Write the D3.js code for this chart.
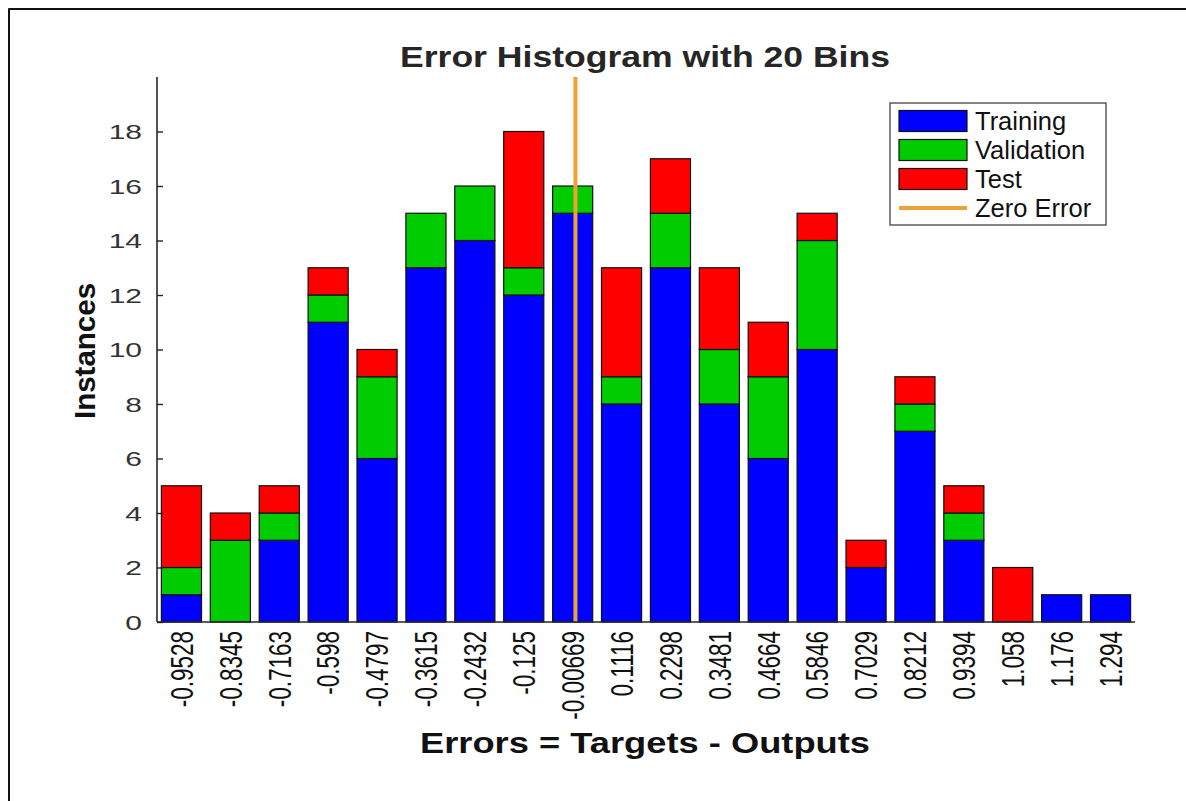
<!DOCTYPE html>
<html>
<head>
<meta charset="utf-8">
<script src="https://cdn.jsdelivr.net/npm/d3@7"></script>
<style>
  html, body { margin: 0; padding: 0; background: #fff; }
  svg { display: block; font-family: "Liberation Sans", Arial, sans-serif; }
</style>
</head>
<body>
<svg id="chart" width="1186" height="801"></svg>
<script>
const binLabels = ["-0.9528","-0.8345","-0.7163","-0.598","-0.4797","-0.3615","-0.2432","-0.125","-0.00669","0.1116","0.2298","0.3481","0.4664","0.5846","0.7029","0.8212","0.9394","1.058","1.176","1.294"];
const training   = [1,0,3,11,6,13,14,12,15,8,13,8,6,10,2,7,3,0,1,1];
const validation = [1,3,1,1,3,2,2,1,1,1,2,2,3,4,0,1,1,0,0,0];
const test       = [3,1,1,1,1,0,0,5,0,4,2,3,2,1,1,1,1,2,0,0];
const yTicks = [0,2,4,6,8,10,12,14,16,18];
const seriesNames = ["Training","Validation","Test"];
const seriesColors = ["#0000ff","#00cc00","#ff0000"];
const zeroErrorValue = 0;

(function () {
const svg = d3.select("#chart");
const textColor = "#262626";
const stretch = function (sel, k) {
  sel.each(function () {
    const w = this.getComputedTextLength();
    d3.select(this).attr("textLength", w * k).attr("lengthAdjust", "spacingAndGlyphs");
  });
};

// outer frame (top + left visible)
svg.append("line").attr("x1", 8.5).attr("y1", 9).attr("x2", 1186).attr("y2", 9)
  .attr("stroke", "#111").attr("stroke-width", 2);
svg.append("line").attr("x1", 9).attr("y1", 8.5).attr("x2", 9).attr("y2", 801)
  .attr("stroke", "#111").attr("stroke-width", 2);

const pL = 157, pR = 1135, pT = 77, pB = 622;

const x = d3.scaleBand().domain(binLabels).range([pL, pR]).paddingInner(0.18).paddingOuter(0.09);
const y = d3.scaleLinear().domain([0, 20]).range([pB, pT]);

const rows = binLabels.map((b, i) => ({ bin: b, Training: training[i], Validation: validation[i], Test: test[i] }));
const stack = d3.stack().keys(seriesNames)(rows);

const g = svg.append("g");
stack.forEach((layer, k) => {
  g.selectAll(null).data(layer.filter(d => d[1] > d[0])).enter().append("rect")
    .attr("x", d => x(d.data.bin))
    .attr("y", d => y(d[1]))
    .attr("width", x.bandwidth())
    .attr("height", d => y(d[0]) - y(d[1]))
    .attr("fill", seriesColors[k])
    .attr("stroke", "#111")
    .attr("stroke-width", 1.2);
});

// zero error line
const xv = d3.scaleLinear()
  .domain([+binLabels[0], +binLabels[binLabels.length - 1]])
  .range([x(binLabels[0]) + x.bandwidth() / 2, x(binLabels[binLabels.length - 1]) + x.bandwidth() / 2]);
svg.append("line")
  .attr("x1", xv(zeroErrorValue)).attr("x2", xv(zeroErrorValue))
  .attr("y1", y(20)).attr("y2", y(0))
  .attr("stroke", "#eba236").attr("stroke-width", 4);

// y axis
const yAxis = svg.append("g").attr("transform", `translate(${pL},0)`)
  .call(d3.axisLeft(y).tickValues(yTicks).tickSize(-6).tickPadding(15).tickFormat(d3.format("d")));
yAxis.select(".domain").attr("stroke", textColor).attr("stroke-width", 1.6).attr("d", `M0,${pT}V${pB}`);
yAxis.selectAll(".tick line").attr("stroke", textColor).attr("stroke-width", 1.4);
yAxis.selectAll(".tick text").attr("fill", "#333").style("font-size", "20px")
  .attr("font-family", "Liberation Sans, Arial, sans-serif").attr("dy", "0.36em")
  .call(stretch, 1.5);

// x axis
const xAxis = svg.append("g").attr("transform", `translate(0,${pB})`)
  .call(d3.axisBottom(x).tickSize(0).tickPadding(0));
xAxis.select(".domain").attr("stroke", textColor).attr("stroke-width", 1.6).attr("d", `M${pL},0H${pR}`);
xAxis.selectAll(".tick text")
  .attr("fill", "#111")
  .style("font-size", "22.5px")
  .attr("font-family", "Liberation Sans, Arial, sans-serif")
  .attr("transform", "rotate(-90) scale(1,1.4)")
  .attr("text-anchor", "end")
  .attr("dy", "0.36em")
  .attr("x", -9)
  .attr("y", 0);

// title and labels
svg.append("text").attr("x", 645).attr("y", 67).attr("text-anchor", "middle")
  .attr("font-weight", "bold").style("font-size", "30px").attr("fill", textColor)
  .attr("textLength", 490).attr("lengthAdjust", "spacingAndGlyphs")
  .text("Error Histogram with 20 Bins");
svg.append("text").attr("x", 645).attr("y", 753).attr("text-anchor", "middle")
  .attr("font-weight", "bold").style("font-size", "29px").attr("fill", "#111")
  .attr("textLength", 450).attr("lengthAdjust", "spacingAndGlyphs")
  .text("Errors = Targets - Outputs");
svg.append("text").attr("transform", "translate(95,351) rotate(-90)").attr("text-anchor", "middle")
  .attr("font-weight", "bold").style("font-size", "29.5px").attr("fill", "#111")
  .text("Instances");

// legend
const lg = svg.append("g").attr("transform", "translate(890,103)");
lg.append("rect").attr("width", 216).attr("height", 122).attr("fill", "#fff")
  .attr("stroke", "#333").attr("stroke-width", 1.2);
const legendItems = seriesNames.map((n, i) => ({ name: n, color: seriesColors[i], type: "rect" }))
  .concat([{ name: "Zero Error", color: "#eba236", type: "line" }]);
legendItems.forEach((it, i) => {
  const cy = 18 + i * 29;
  if (it.type === "rect") {
    lg.append("rect").attr("x", 9).attr("y", cy - 10.5).attr("width", 68).attr("height", 21)
      .attr("fill", it.color).attr("stroke", "#111").attr("stroke-width", 1.2);
  } else {
    lg.append("line").attr("x1", 9).attr("x2", 77).attr("y1", cy).attr("y2", cy)
      .attr("stroke", it.color).attr("stroke-width", 4);
  }
  lg.append("text").attr("x", 85).attr("y", cy).attr("dy", "0.36em")
    .style("font-size", "25.5px").attr("fill", "#111").text(it.name);
});
})();
</script>
</body>
</html>
